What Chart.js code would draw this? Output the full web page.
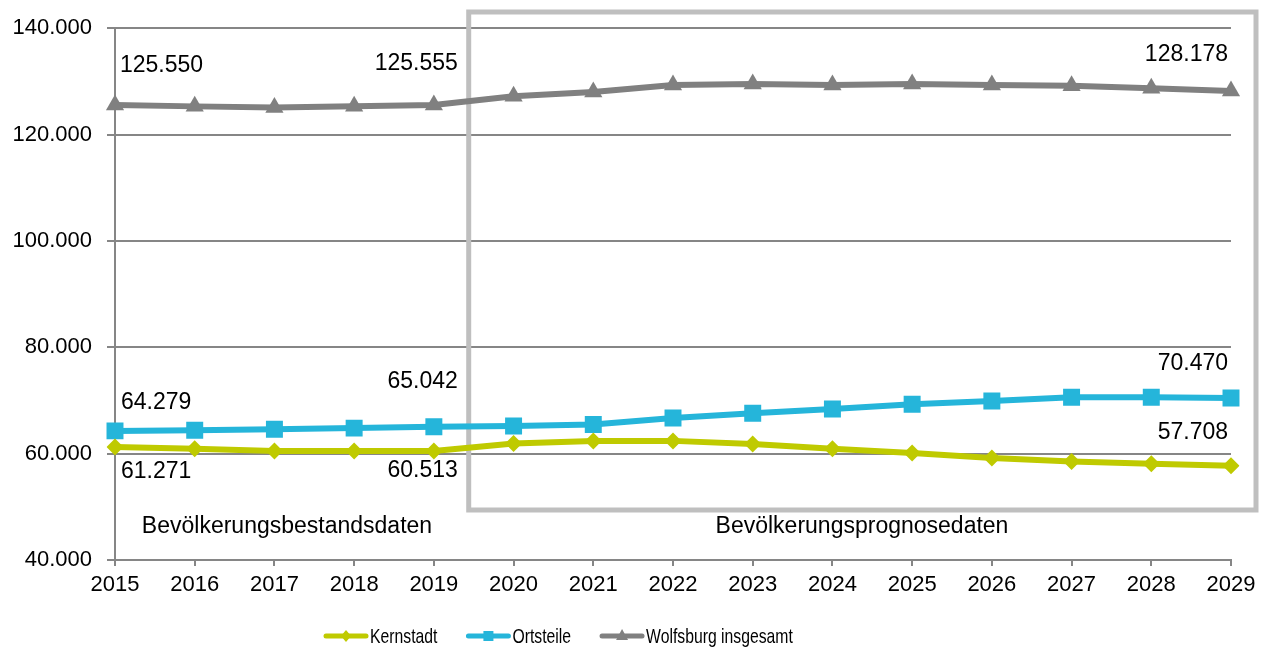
<!DOCTYPE html>
<html>
<head>
<meta charset="utf-8">
<script src="https://cdn.jsdelivr.net/npm/chart.js@4.4.1/dist/chart.umd.min.js"></script>
<style>
  html, body { margin: 0; padding: 0; background: #fff; }
  #wrap { width: 1272px; height: 651px; }
</style>
</head>
<body>
<div id="wrap"><canvas id="myChart" width="1272" height="651"></canvas></div>
<script>
const years = ['2015','2016','2017','2018','2019','2020','2021','2022','2023','2024','2025','2026','2027','2028','2029'];
const kernstadt = [61271, 60900, 60500, 60500, 60513, 61900, 62400, 62400, 61800, 60900, 60100, 59200, 58500, 58100, 57708];
const ortsteile = [64279, 64400, 64600, 64800, 65042, 65200, 65500, 66700, 67600, 68400, 69300, 69900, 70600, 70600, 70470];
const wolfsburg = [125550, 125300, 125100, 125300, 125555, 127200, 128000, 129300, 129500, 129300, 129500, 129300, 129200, 128700, 128178];
const seriesNames = ['Kernstadt', 'Ortsteile', 'Wolfsburg insgesamt'];
const yTicks = [40000, 60000, 80000, 100000, 120000, 140000];
const captions = ['Bevölkerungsbestandsdaten', 'Bevölkerungsprognosedaten'];

const colors = ['#bfca00', '#25b5da', '#808080'];
const FONT = "'Liberation Sans', Arial, sans-serif";

function fmt(v) {
  return String(v).replace(/\B(?=(\d{3})+(?!\d))/g, '.');
}

// which points get a value label: [dataset, index, dx, dy, align]
const labelSpots = [
  [2, 0, 5, -39, 'left'], [2, 4, 24, -41, 'right'], [2, 14, -3, -36, 'right'],
  [1, 0, 6, -28, 'left'], [1, 4, 24, -45, 'right'], [1, 14, -3, -34, 'right'],
  [0, 0, 6, 25, 'left'], [0, 4, 24, 20, 'right'], [0, 14, -3, -33, 'right']
];

function drawIcon(g, x, y, color, style) {
  g.save();
  g.strokeStyle = color; g.fillStyle = color;
  g.lineWidth = 5; g.lineCap = 'round';
  g.beginPath(); g.moveTo(x + 3, y); g.lineTo(x + 43, y); g.stroke();
  g.beginPath();
  const c = x + 23;
  if (style === 'diamond') { g.moveTo(c, y - 6); g.lineTo(c + 5, y); g.lineTo(c, y + 6); g.lineTo(c - 5, y); }
  else if (style === 'square') { g.rect(c - 5, y - 5, 10, 10); }
  else { g.moveTo(c, y - 7); g.lineTo(c + 6, y + 4); g.lineTo(c - 6, y + 4); }
  g.closePath(); g.fill();
  g.restore();
}
const iconStyles = ['diamond', 'square', 'triangle'];

const overlay = {
  id: 'overlay',
  beforeDatasetsDraw(chart) {
    const ctx = chart.ctx, x = chart.scales.x;
    const left = (x.getPixelForValue(4) + x.getPixelForValue(5)) / 2 - 5;
    ctx.save();
    ctx.strokeStyle = '#bfbfbf';
    ctx.lineWidth = 5;
    ctx.strokeRect(left, 12, 1256 - left, 498);
    ctx.restore();
  },
  afterDatasetsDraw(chart) {
    const ctx = chart.ctx, x = chart.scales.x, y = chart.scales.y;
    ctx.save();
    ctx.fillStyle = '#000';
    ctx.font = '23px ' + FONT;
    ctx.textBaseline = 'middle';
    labelSpots.forEach(([ds, i, dx, dy, align]) => {
      const v = chart.data.datasets[ds].data[i];
      ctx.textAlign = align;
      ctx.fillText(fmt(v), x.getPixelForValue(i) + dx, y.getPixelForValue(v) + dy);
    });
    ctx.textAlign = 'center';
    ctx.fillText(captions[0], 287, 527);
    ctx.fillText(captions[1], 862, 527);

    // legend (narrow text like the original)
    const squeeze = 0.75;
    ctx.font = '21px ' + FONT;
    ctx.textAlign = 'left';
    let lx = 323;
    const ly = 636;
    chart.data.datasets.forEach((d, i) => {
      drawIcon(ctx, lx, ly, colors[i], iconStyles[i]);
      ctx.save();
      ctx.fillStyle = '#000';
      ctx.translate(lx + 47, ly + 1);
      ctx.scale(squeeze, 1);
      ctx.fillText(d.label, 0, 0);
      ctx.restore();
      lx += 47 + ctx.measureText(d.label).width * squeeze + 28;
    });
    ctx.restore();
  }
};

const ctx = document.getElementById('myChart');
new Chart(ctx, {
  type: 'line',
  data: {
    labels: years,
    datasets: [
      { label: seriesNames[0], data: kernstadt, borderColor: colors[0], backgroundColor: colors[0],
        borderWidth: 6, pointStyle: 'rectRot', pointRadius: 8.5, pointBorderWidth: 0, tension: 0 },
      { label: seriesNames[1], data: ortsteile, borderColor: colors[1], backgroundColor: colors[1],
        borderWidth: 6, pointStyle: 'rect', pointRadius: 12, pointBorderWidth: 0, tension: 0 },
      { label: seriesNames[2], data: wolfsburg, borderColor: colors[2], backgroundColor: colors[2],
        borderWidth: 6, pointStyle: 'triangle', pointRadius: 10.5, pointBorderWidth: 0, tension: 0 }
    ]
  },
  options: {
    responsive: false,
    animation: false,
    devicePixelRatio: 1,
    layout: { padding: { top: 26, right: 41, left: 0, bottom: 0 } },
    scales: {
      x: {
        offset: false,
        grid: { display: true, drawOnChartArea: false, color: '#868686', lineWidth: 2, tickLength: 6 },
        border: { color: '#868686', width: 2 },
        ticks: { color: '#000', font: { size: 22, family: FONT }, padding: 6, maxRotation: 0, autoSkip: false },
        afterFit(s) { s.height = 91; }
      },
      y: {
        min: 40000, max: 140000,
        afterBuildTicks(s) { s.ticks = yTicks.map(v => ({ value: v })); },
        grid: { color: '#868686', lineWidth: 2, tickLength: 8 },
        border: { color: '#868686', width: 2 },
        ticks: { color: '#000', font: { size: 22, family: FONT }, padding: 15, callback: v => fmt(v) },
        afterFit(s) { s.width = 115; }
      }
    },
    plugins: {
      legend: { display: false },
      tooltip: { enabled: false }
    }
  },
  plugins: [overlay]
});
</script>
</body>
</html>
